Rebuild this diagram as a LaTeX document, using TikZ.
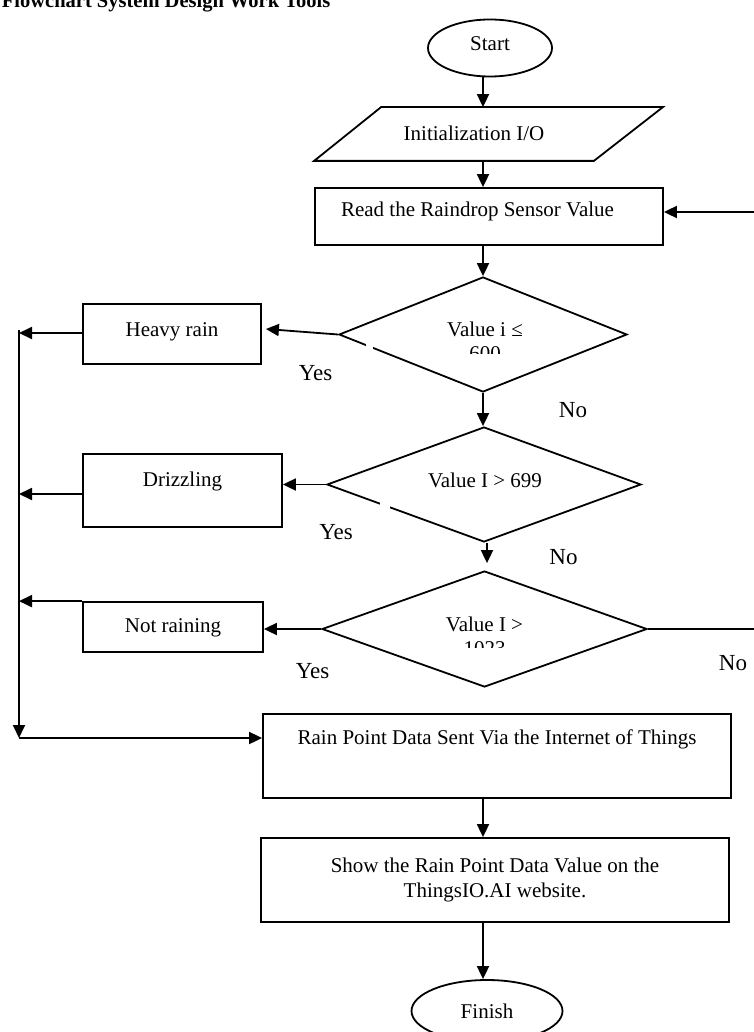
\documentclass[tikz,border=0pt]{standalone}
\usepackage{fontspec}
\setmainfont{Liberation Serif}
\usetikzlibrary{arrows.meta,shapes.geometric}
\begin{document}
\begin{tikzpicture}[x=1pt,y=-1pt,line width=1.8pt,
  txt/.style={font=\fontsize{21}{24}\selectfont},
  box/.style={draw, rectangle, inner sep=2pt, txt, text height=15pt},
  term/.style={draw, ellipse, inner sep=2pt, txt, text height=15pt},
  dec/.style={draw, diamond, inner sep=0pt},
  dtext/.style={txt, align=center, inner sep=0pt},
  lbl/.style={font=\fontsize{23}{26}\selectfont, inner sep=0pt, anchor=base},
  arr/.style={-{Triangle[length=13pt,width=12pt]}},
]
\useasboundingbox (0,0) rectangle (753,1032);

% title
\node[anchor=base west, inner sep=0pt, font=\bfseries\fontsize{20.5}{24}\selectfont] (title) at (1,7.5) {Flowchart System Design Work Tools};

% nodes
\node[term, minimum width=124pt, minimum height=57pt, text depth=10pt] (start) at (490,48) {Start};
\node[rectangle, inner sep=2pt, txt, text height=15pt, text depth=1pt, minimum width=347pt, minimum height=52pt] (init) at (488.5,134) {Initialization I/O\hspace*{29pt}};
\draw ([xshift=67pt]init.north west) -- (init.north east) -- ([xshift=-69pt]init.south east) -- (init.south west) -- cycle;
\node[box, minimum width=348pt, minimum height=57pt, text depth=14pt] (read) at (489,216.5) {Read the Raindrop Sensor Value\hspace*{23pt}};

\node[dec, minimum width=288pt, minimum height=115pt] (d1) at (483,334.5) {};
\node[dec, minimum width=314pt, minimum height=115pt] (d2) at (484,484.5) {};
\node[dec, minimum width=325pt, minimum height=116pt] (d3) at (484.5,629) {};

\begin{scope}
  \clip (380,310) rectangle (590,353);
  \node[dtext, anchor=north] (t1) at (485,321.5) {Value i ≤\\600};
\end{scope}
\node[dtext, anchor=base] (t2) at (485,487) {Value I > 699};
\begin{scope}
  \clip (380,600) rectangle (590,647);
  \node[dtext, anchor=north] (t3) at (484.5,616.5) {Value I >\\1023};
\end{scope}
% small breaks in the diamond outlines
\fill[white] (366,341) rectangle (373,351);
\fill[white] (380,500) rectangle (390,510);

\node[box, minimum width=178pt, minimum height=60pt, text depth=10pt] (heavy) at (172,334) {Heavy rain};
\node[box, minimum width=199pt, minimum height=73pt, text depth=23pt] (drizz) at (182.5,490.5) {Drizzling};
\node[box, minimum width=180pt, minimum height=50pt, text depth=4pt] (notrain) at (173,627) {Not raining};

\node[box, minimum width=468pt, minimum height=84pt, text depth=38pt] (rain) at (497,756) {Rain Point Data Sent Via the Internet of Things};
\node[draw, rectangle, inner sep=2pt, font=\fontsize{21}{25}\selectfont, align=center, minimum width=468pt, minimum height=84pt] (show) at (495,880) {Show the Rain Point Data Value on the\\ThingsIO.AI website.};
\node[term, minimum width=151pt, minimum height=62pt, text depth=1pt] (finish) at (487,1011) {Finish};

% labels
\node[lbl] (y1) at (315.5,380) {Yes};
\node[lbl] (n1) at (573,417) {No};
\node[lbl] (y2) at (336,539) {Yes};
\node[lbl] (n2) at (563.5,564) {No};
\node[lbl] (y3) at (312.5,678) {Yes};
\node[lbl] (n3) at (733,670) {No};

% coordinates
\coordinate (spine) at (483,0);
\coordinate (bustop) at (19,330);
\coordinate (busbot) at (19,738);
\coordinate (ret) at (755,212);

% main flow
\draw[arr] (start.south -| spine) -- (init.north -| spine);
\draw[arr] (init.south -| spine) -- (read.north -| spine);
\draw[arr] (read.south -| spine) -- (d1.north);
\draw[arr] (d1.south) -- (d1.south |- d2.north);
\draw[arr, shorten >=7pt] ([xshift=3pt]d2.south) -- ([xshift=3pt]d2.south |- d3.north);
\draw[arr] (rain.south -| spine) -- (show.north -| spine);
\draw[arr] (show.south -| spine) -- (finish.north -| spine);

% yes branches
\draw[arr] (d1.west) -- ([xshift=4pt,yshift=5pt]heavy.east);
\draw[arr] (d2.west) -- (d2.west -| drizz.east);
\draw[arr] (d3.west) -- (d3.west -| notrain.east);

% to the bus on the left
\draw[arr] (heavy.west |- 0,333) -- (bustop |- 0,333);
\draw[arr] (drizz.west |- 0,494) -- (bustop |- 0,494);
\draw[arr] (notrain.north west) -- (notrain.north west -| bustop);
\draw[arr] (bustop) -- (busbot);
\draw[arr] (busbot) -- (busbot -| rain.west);

% no branch back to reading
\draw[arr] (d3.east) -- (d3.east -| ret) -- (ret) -- (ret -| read.east);
\end{tikzpicture}
\end{document}
